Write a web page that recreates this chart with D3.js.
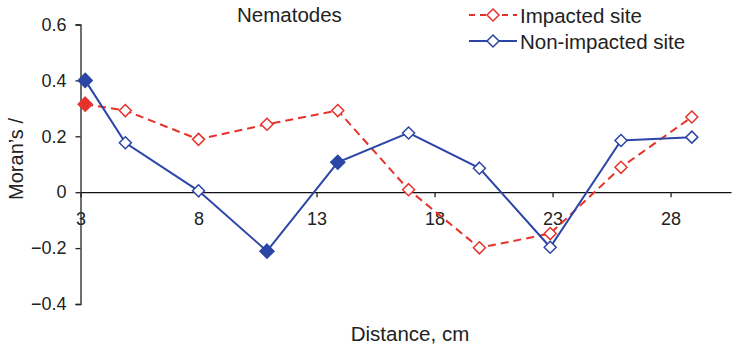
<!DOCTYPE html>
<html>
<head>
<meta charset="utf-8">
<script src="https://cdn.jsdelivr.net/npm/d3@7"></script>
<style>
  html, body { margin: 0; padding: 0; background: #fff; }
  svg { display: block; font-family: "Liberation Sans", Arial, Helvetica, sans-serif; }
</style>
</head>
<body>
<svg id="chart" width="732" height="347"></svg>
<script>
// Lag distances (cm) and Moran's I values for each site
const distances = [3.2, 4.9, 8.0, 10.9, 13.9, 16.9, 19.9, 22.9, 25.9, 28.9];
const impacted = [0.315, 0.292, 0.189, 0.243, 0.292, 0.009, -0.199, -0.148, 0.089, 0.269];
const nonImpacted = [0.400, 0.177, 0.005, -0.211, 0.107, 0.212, 0.086, -0.197, 0.185, 0.197];
// Significant values are drawn with filled markers
const impactedSignificant = [true, false, false, false, false, false, false, false, false, false];
const nonImpactedSignificant = [true, false, false, true, true, false, false, false, false, false];

const xTickValues = [3, 8, 13, 18, 23, 28];
const yTickValues = [0.6, 0.4, 0.2, 0, -0.2, -0.4];
const yTickLabels = ["0.6", "0.4", "0.2", "0", "\u22120.2", "\u22120.4"];

const seriesNames = ["Impacted site", "Non-impacted site"];
const titleText = "Nematodes";
const xTitle = "Distance, cm";
const yTitle = "Moran\u2019s /";

const RED = "#e5332c";
const BLUE = "#2b46a6";

const svg = d3.select("#chart");

const x = d3.scaleLinear().domain([3, 30.56]).range([80.5, 731]);
const y = d3.scaleLinear().domain([-0.4, 0.6]).range([304, 24.5]);

// Y axis (left) with outer end ticks
const yAxis = d3.axisLeft(y)
  .tickValues(yTickValues)
  .tickFormat((d, i) => yTickLabels[i])
  .tickSize(5)
  .tickSizeOuter(5)
  .tickPadding(9);

const gy = svg.append("g")
  .attr("transform", `translate(${x(3)},0)`)
  .call(yAxis);
gy.select(".domain").attr("stroke", "#222").attr("stroke-width", 1.3);
gy.selectAll(".tick line").attr("stroke", "#222").attr("stroke-width", 1.3);
gy.selectAll(".tick text").attr("font-size", 18).attr("fill", "#222")
  .attr("font-family", "Liberation Sans, Arial, sans-serif");

// X axis along y = 0
const xAxis = d3.axisBottom(x)
  .tickValues(xTickValues)
  .tickFormat(d3.format("d"))
  .tickSize(5)
  .tickSizeOuter(0)
  .tickPadding(15);

const gx = svg.append("g")
  .attr("transform", `translate(0,${y(0)})`)
  .call(xAxis);
gx.select(".domain").attr("stroke", "#111").attr("stroke-width", 1.3);
gx.selectAll(".tick line").attr("stroke", "#222").attr("stroke-width", 1.3);
gx.selectAll(".tick text").attr("font-size", 18).attr("fill", "#222")
  .attr("font-family", "Liberation Sans, Arial, sans-serif");

const diamond = (r) => `M0,${-r}L${r},0L0,${r}L${-r},0Z`;

const line = d3.line().x(d => x(d[0])).y(d => y(d[1]));

function drawSeries(values, significant, color, dash) {
  const pts = distances.map((d, i) => [d, values[i], significant[i]]);
  svg.append("path")
    .datum(pts)
    .attr("fill", "none")
    .attr("stroke", color)
    .attr("stroke-width", 2)
    .attr("stroke-dasharray", dash)
    .attr("d", line);
  svg.append("g").selectAll("path")
    .data(pts)
    .join("path")
    .attr("transform", d => `translate(${x(d[0])},${y(d[1])})`)
    .attr("d", d => d[2] ? diamond(7) : diamond(6))
    .attr("fill", d => d[2] ? color : "#fff")
    .attr("stroke", color)
    .attr("stroke-width", 1.5);
}

drawSeries(impacted, impactedSignificant, RED, "8,5");
drawSeries(nonImpacted, nonImpactedSignificant, BLUE, null);

// Title
svg.append("text")
  .attr("x", 237).attr("y", 22)
  .attr("font-size", 20.5).attr("fill", "#222")
  .text(titleText);

// Legend
const legend = [
  { name: seriesNames[0], color: RED, dash: "6,5", cy: 15 },
  { name: seriesNames[1], color: BLUE, dash: null, cy: 41 }
];
legend.forEach(l => {
  svg.append("line")
    .attr("x1", 469).attr("x2", 517).attr("y1", l.cy).attr("y2", l.cy)
    .attr("stroke", l.color).attr("stroke-width", 2)
    .attr("stroke-dasharray", l.dash);
  svg.append("path")
    .attr("transform", `translate(493,${l.cy})`)
    .attr("d", diamond(6))
    .attr("fill", "#fff").attr("stroke", l.color).attr("stroke-width", 1.5);
  svg.append("text")
    .attr("x", 520).attr("y", l.cy + 7.5)
    .attr("font-size", 20.5).attr("fill", "#222")
    .text(l.name);
});

// Axis titles
svg.append("text")
  .attr("x", 410).attr("y", 341)
  .attr("text-anchor", "middle")
  .attr("font-size", 20.5).attr("fill", "#222")
  .text(xTitle);

svg.append("text")
  .attr("transform", "translate(23,159) rotate(-90)")
  .attr("text-anchor", "middle")
  .attr("font-size", 20).attr("fill", "#222")
  .text(yTitle);
</script>
</body>
</html>
